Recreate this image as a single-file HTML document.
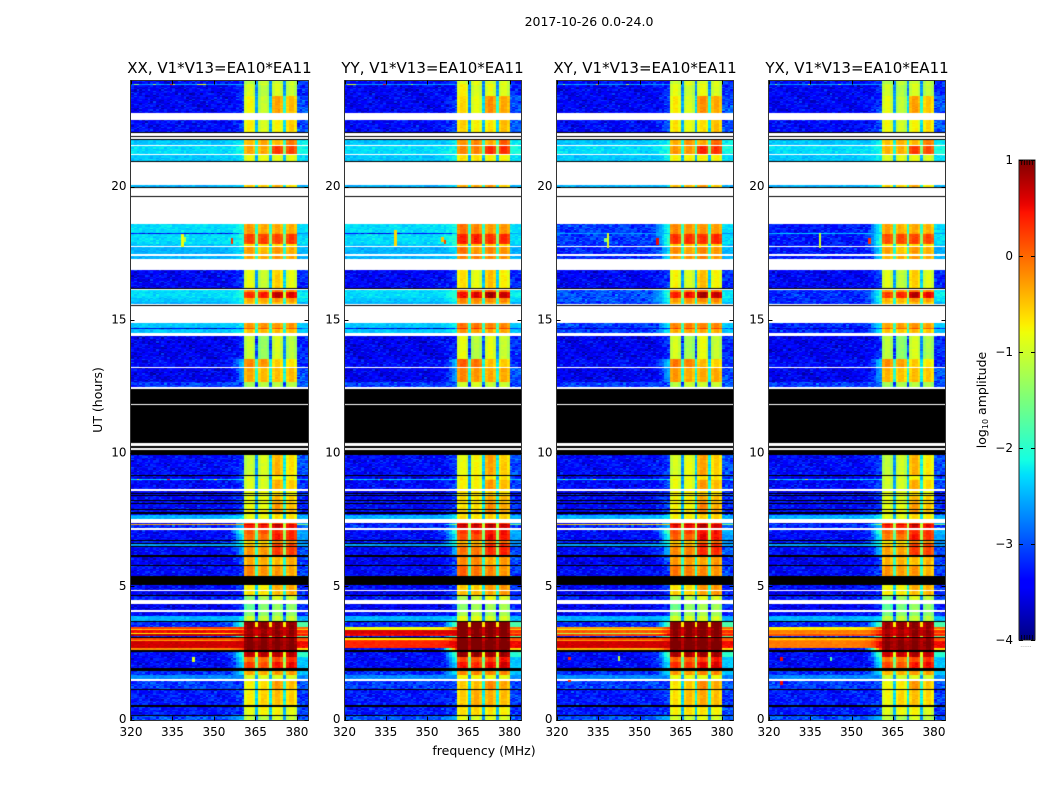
<!DOCTYPE html>
<html lang="en">
<head>
<meta charset="utf-8">
<title>2017-10-26 0.0-24.0 dynamic spectra</title>
<style>
html,body{margin:0;padding:0;background:#fff;}
#stage{position:relative;width:1050px;height:800px;overflow:hidden;background:#fff;font-family:"DejaVu Sans","Liberation Sans",sans-serif;}
canvas{position:absolute;display:block;}
#overlay{position:absolute;left:0;top:0;}
text{font-family:"DejaVu Sans","Liberation Sans",sans-serif;fill:#000;}
</style>
</head>
<body>
<div id="stage">
<svg id="overlay" width="1050" height="800" viewBox="0 0 1050 800" xmlns="http://www.w3.org/2000/svg">
  <defs>
    <linearGradient id="jetGradient" x1="0" y1="1" x2="0" y2="0"></linearGradient>
  </defs>
  <text x="589" y="26" font-size="12.5" text-anchor="middle">2017-10-26 0.0-24.0</text>
  <text x="484" y="755" font-size="12.5" text-anchor="middle">frequency (MHz)</text>
  <text transform="translate(102,400) rotate(-90)" font-size="12.5" text-anchor="middle">UT (hours)</text>
  <text transform="translate(986,400) rotate(-90)" font-size="12.5" text-anchor="middle">log<tspan font-size="8" dy="2">10</tspan><tspan dy="-2"> amplitude</tspan></text>
  <text x="1026" y="647" font-size="6" fill="#888" text-anchor="middle" style="fill:#888">......</text>
  <g id="axes-layer"></g>
</svg>
</div>
<script>
// ---- Chart data (levels are log10 amplitude) ----
const panelTitles = ["XX, V1*V13=EA10*EA11", "YY, V1*V13=EA10*EA11", "XY, V1*V13=EA10*EA11", "YX, V1*V13=EA10*EA11"];
const hourTicks = [0, 5, 10, 15, 20];
const freqTicks = [320, 335, 350, 365, 380];
const colorTicks = [-4, -3, -2, -1, 0, 1];
const colorMin = -4;
const colorMax = 1;
const freqMin = 320;
const freqMax = 384;
const hourMin = 0;
const hourMax = 23.96;
const channelCount = 64;
const rowStepHours = 0.05;

// Which spectral segment each channel belongs to: 0 quiet, 1 roll-on, 2-5 the four basebands, 6 upper edge, 7 inter-band gap
const channelSegment = [
  0,0,0,0,0,0,0,0,0,0,0,0,0,0,0,0,0,0,0,0,0,0,0,0,0,0,0,0,0,0,0,0,0,
  1,1,1,1,1,1,1,1,
  2,2,2,2,7,3,3,3,3,7,4,4,4,4,7,5,5,5,5,
  6,6,6,6
];
// Roll-on weight for channels 33-40
const rollOnWeight = [0.03, 0.06, 0.1, 0.2, 0.35, 0.55, 0.8, 1];
// Level shape across the four channels of a baseband
const bandShape = [-0.08, 0.08, 0.08, -0.1];
// Level offset of each baseband per polarisation panel: XX, YY, XY, YX
const panelBandOffset = [
  [0, 0, 0, 0],
  [0.2, 0.2, 0.1, 0.1],
  [0.1, 0.1, 0.1, 0.1],
  [-0.05, -0.05, 0, -0.05]
];
// Depth of the gap between basebands, in normal rows and in rows saturated across the whole band
const gapDepth = 1.6;
const saturatedGapDepth = 0.2;
// How much further down the deep-blue quiet cells sit
const quietDeepen = 0.2;

// Time rows: [top hour, bottom hour, quiet level, roll-on level, band1, band2, band3, band4, upper-edge level]
// Quiet may be a four-entry list (XX, YY, XY, YX). A null quiet level means a flagged black row; hours not listed are blank.
const timeRows = [
  [23.96,23.84,-3.2,-3.0,-1.2,-1.1,-1.1,-1.1,-3.0],
  [23.84,23.80,-2.6,-2.6,-1.0,-1.0,-0.9,-1.0,-2.9],
  [23.80,23.43,-3.25,-3.0,-1.0,-1.2,-1.0,-1.1,-3.0],
  [23.40,22.76,-3.25,-2.9,-0.85,-1.1,-0.35,-0.5,-2.8],
  [22.50,22.05,-3.2,-2.8,-0.8,-1.0,-0.8,-0.6,-2.8],
  [22.05,22.00,null],
  [21.90,21.87,null],
  [21.78,21.75,null],
  [21.75,21.56,-2.4,-2.2,-0.5,-0.4,-0.5,-0.1,-2.2],
  [21.52,21.24,-2.3,-2.1,-0.4,-0.4,0.2,0.15,-2.1],
  [21.18,20.96,-2.4,-2.2,-0.9,-0.9,-0.9,-0.9,-2.3],
  [20.96,20.92,null],
  [20.06,19.98,-2.5,-2.3,-0.6,-0.6,-0.4,-0.7,-2.5],
  [19.98,19.94,null],
  [19.64,19.60,null],
  [18.60,18.26,[-2.3,-2.3,-2.9,-3.1],-2.1,-0.3,-0.4,-0.4,-0.4,-2.3],
  [18.26,18.20,[-3.2,-3.2,-2.6,-2.4],-2.5,-0.3,-0.3,-0.3,-0.3,-2.6],
  [18.20,17.86,[-2.3,-2.3,-2.9,-3.1],-2.0,0.15,0.15,0.15,0.2,-2.3],
  [17.86,17.77,[-2.4,-2.4,-3.0,-3.1],-2.1,-0.7,-0.7,-0.7,-0.7,-2.4],
  [17.73,17.52,[-2.5,-2.5,-3.0,-3.1],-2.3,-0.3,-0.5,-0.3,-0.4,-2.5],
  [17.49,17.45,[-2.5,-2.5,-3.0,-3.1],-2.3,-0.4,-0.4,-0.4,-0.4,-2.5],
  [17.41,17.28,[-2.5,-2.5,-3.0,-3.1],-2.3,-0.4,-0.4,-0.3,-0.4,-2.5],
  [16.87,16.19,-3.25,-2.9,-0.9,-1.1,-0.6,-0.9,-3.0],
  [16.18,16.15,null],
  [16.13,16.05,[-2.3,-2.3,-2.8,-3.0],-2.1,-0.3,-0.3,-0.1,-0.2,-2.3],
  [16.05,15.82,[-2.3,-2.3,-2.8,-3.0],-2.0,0.25,0.35,0.7,0.55,-2.2],
  [15.82,15.70,[-2.4,-2.4,-2.8,-3.0],-2.1,-0.4,-0.4,-0.3,-0.3,-2.3],
  [15.67,15.60,[-2.5,-2.5,-2.9,-3.0],-2.2,-0.5,-0.5,-0.5,-0.5,-2.5],
  [15.57,15.54,null],
  [14.88,14.69,[-2.4,-2.4,-2.9,-3.0],-2.2,-0.3,-0.3,-0.3,-0.3,-2.4],
  [14.69,14.65,-3.4,-2.8,0.1,0.1,0.1,0.1,-2.8],
  [14.65,14.50,[-2.4,-2.4,-2.9,-3.0],-2.2,-0.5,-0.5,-0.5,-0.5,-2.4],
  [14.39,13.53,-3.3,-3.0,-1.1,-1.4,-1.0,-1.2,-3.0],
  [13.53,13.23,-3.2,-2.4,-0.2,-0.3,-0.6,-0.7,-3.0],
  [13.19,12.66,-3.3,-2.6,-0.4,-0.5,-0.5,-0.5,-2.8],
  [12.66,12.48,-2.9,-2.8,-1.3,-1.2,-1.2,-1.2,-2.8],
  [12.42,11.85,null],
  [11.81,10.36,null],
  [10.28,10.18,null],
  [10.11,9.92,null],
  [9.92,9.17,-3.2,-2.9,-1.1,-1.0,-0.45,-0.7,-2.8],
  [9.17,9.14,null],
  [9.14,9.02,-3.3,-2.9,-1.0,-1.0,-0.8,-0.8,-3.0],
  [9.02,8.99,-2.4,-2.2,-0.9,-0.9,-0.7,-0.8,-2.4],
  [8.99,8.65,-3.2,-2.8,-1.0,-1.0,-0.4,-0.6,-2.9],
  [8.57,8.50,-3.3,-2.9,-0.9,-0.9,-0.7,-0.8,-3.0],
  [8.50,8.46,null],
  [8.46,8.42,-3.2,-2.9,-0.9,-0.9,-0.7,-0.8,-3.0],
  [8.42,8.39,null],
  [8.39,8.27,-3.2,-2.9,-0.9,-0.9,-0.5,-0.6,-3.0],
  [8.25,8.20,null],
  [8.20,8.12,-3.2,-2.9,-0.9,-0.9,-0.4,-0.6,-3.0],
  [8.12,8.09,null],
  [8.09,7.90,-3.2,-2.9,-0.9,-0.9,-0.3,-0.5,-3.0],
  [7.90,7.86,null],
  [7.86,7.77,-3.2,-2.8,-0.8,-0.8,-0.3,-0.5,-3.0],
  [7.77,7.73,null],
  [7.73,7.67,-3.2,-2.7,-0.9,-0.9,-0.6,-0.7,-2.9],
  [7.67,7.52,-2.5,-2.2,-0.9,-0.9,-0.7,-0.7,-2.5],
  [7.39,7.35,-3.3,-2.4,0.1,0.1,0.2,0.1,-2.6],
  [7.35,7.28,[-0.4,-3.0,-0.6,-2.9],-1.0,0.6,0.6,0.8,0.6,-1.5],
  [7.28,7.19,-3.0,-2.5,0.4,0.4,0.6,0.5,-2.8],
  [7.10,6.98,-3.2,-1.8,0.0,0.1,0.3,0.3,-2.5],
  [6.96,6.74,-3.2,-2.2,-0.1,-0.1,0.4,0.3,-2.6],
  [6.72,6.70,null],
  [6.70,6.62,-3.1,-2.0,-0.7,-0.7,-0.2,-0.2,-2.7],
  [6.62,6.58,null],
  [6.58,6.51,-2.6,-2.1,-0.5,-0.5,0.2,0.2,-2.6],
  [6.51,6.47,null],
  [6.47,6.17,-3.2,-2.5,-0.3,-0.3,0.2,0.2,-2.8],
  [6.17,6.10,null],
  [6.10,5.80,-3.3,-2.8,-0.4,-0.4,-0.5,-0.4,-2.9],
  [5.80,5.76,null],
  [5.76,5.38,-3.2,-2.9,-0.2,-0.3,-0.3,-0.4,-2.9],
  [5.38,5.05,null],
  [5.05,4.86,-3.2,-2.9,-0.8,-0.8,-0.4,-0.4,-3.0],
  [4.82,4.67,-3.3,-3.0,-0.7,-0.7,-0.5,-0.4,-3.0],
  [4.67,4.63,null],
  [4.63,4.48,-3.1,-2.8,-1.5,-1.3,-1.0,-1.1,-2.9],
  [4.33,4.10,-3.3,-3.0,-1.7,-1.5,-1.4,-1.4,-3.0],
  [4.03,3.90,-3.2,-3.0,-1.5,-1.4,-1.4,-1.4,-3.0],
  [3.88,3.70,-2.5,-2.3,-1.1,-1.1,-1.1,-1.1,-2.5],
  [3.70,3.66,null],
  [3.66,3.47,-3.0,-1.8,0.9,0.9,0.9,0.9,-1.8],
  [3.47,3.40,[0.2,-0.8,-0.3,-0.7],0.3,0.9,0.9,0.9,0.9,0.0],
  [3.40,3.36,[-0.5,-0.9,-0.9,-0.7],-0.2,0.8,0.8,0.8,0.8,-0.5],
  [3.36,3.25,[0.5,0.6,0.1,-0.1],0.4,0.8,0.8,0.9,0.9,0.3],
  [3.25,3.20,[-0.7,0.6,-1.2,-0.2],0.2,0.8,0.8,0.9,0.9,0.0],
  [3.20,3.15,[0.7,0.5,0.2,0.1],0.6,0.9,0.9,0.9,0.9,0.4],
  [3.15,3.08,-3.0,-1.5,0.5,0.5,0.6,0.6,-1.6],
  [3.08,3.04,null],
  [3.04,2.98,[0.2,-0.7,0.2,-0.5],0.3,0.9,0.9,0.9,0.9,0.1],
  [2.98,2.95,[-0.3,0.2,-0.3,-0.2],0.2,0.9,0.9,0.9,0.9,0.0],
  [2.95,2.70,[0.65,0.35,0.65,-0.1],0.6,1.0,1.0,1.0,1.0,0.5],
  [2.70,2.61,[-0.2,-3.2,-0.4,-3.2],0.2,0.95,0.95,0.95,0.95,-0.6],
  [2.61,2.55,null],
  [2.53,2.35,-3.2,-1.8,0.7,0.7,0.75,0.75,-2.0],
  [2.35,2.16,-3.2,-2.1,-0.1,-0.1,0.1,0.3,-2.4],
  [2.16,1.93,-3.2,-2.3,0.2,0.1,0.4,0.5,-2.4],
  [1.93,1.82,null],
  [1.82,1.67,-3.0,-2.2,-0.4,-0.4,-0.3,-0.3,-2.4],
  [1.67,1.52,-2.7,-2.7,-1.0,-1.0,-1.0,-1.0,-2.7],
  [1.44,1.14,-2.9,-2.9,-0.8,-0.7,-0.3,-0.5,-2.8],
  [1.14,1.11,null],
  [1.11,0.54,-3.1,-2.9,-0.8,-0.6,-0.5,-0.6,-2.9],
  [0.54,0.47,null],
  [0.47,0.17,-3.1,-2.9,-0.9,-0.8,-0.8,-0.9,-2.9],
  [0.17,0.13,null],
  [0.13,0.00,-2.8,-2.5,-1.1,-1.2,-1.0,-1.1,-2.8]
];

// Narrow interference marks: [panel index, channel, top hour, bottom hour, level]
const interferenceMarks = [
  [0,18,18.20,17.74,-0.8],[0,19,18.10,17.90,-1.2],[0,36,18.05,17.85,0.3],
  [1,18,18.35,17.75,-0.6],[1,35,18.10,17.90,-0.5],[1,36,18.00,17.85,0.2],
  [2,18,18.25,17.70,-0.9],[2,17,18.05,17.90,-1.5],[2,36,18.05,17.80,0.5],
  [3,18,18.25,17.70,-1.0],[3,36,18.05,17.85,0.3],
  [0,22,2.35,2.15,-0.9],[2,22,2.40,2.20,-1.1],[3,22,2.35,2.20,-1.7],
  [2,4,2.35,2.25,0.4],[3,4,2.35,2.20,0.5],[2,4,1.50,1.40,0.4],[3,4,1.45,1.30,0.5],
  [0,1,23.84,23.80,-1.4],[0,2,23.84,23.80,-1.6],[0,8,23.84,23.80,-1.3],[0,14,23.84,23.80,0.4],[0,15,23.84,23.80,-1.0],[0,24,23.84,23.80,-1.0],[0,25,23.84,23.80,-0.9],[0,26,23.84,23.80,-0.8],
  [1,1,23.84,23.80,-0.9],[1,2,23.84,23.80,-1.0],[1,3,23.84,23.80,-1.0],[1,14,23.84,23.80,0.4],[1,24,23.84,23.80,-1.3],
  [2,2,23.84,23.80,-1.5],[2,14,23.84,23.80,-0.5],[2,25,23.84,23.80,-1.2],
  [3,2,23.84,23.80,-1.6],[3,14,23.84,23.80,-0.9],[3,25,23.84,23.80,-1.4],
  [0,2,9.02,8.99,-1.0],[0,13,9.02,8.99,0.5],[0,25,9.02,8.99,0.5],[0,30,9.02,8.99,-0.6],
  [1,2,9.02,8.99,-1.2],[1,13,9.02,8.99,0.2],[2,2,9.02,8.99,-1.4],[2,13,9.02,8.99,-0.8],[3,2,9.02,8.99,-1.5],[3,13,9.02,8.99,-0.9]
];

// Hand-typed texture table standing in for the per-pixel noise, which is too fine to read cell by cell
const speckleA = [0.6,-0.9,0.2,0.8,-0.3,-0.7,1,-0.1,0.4,-1,0.7,-0.5,0.1,0.9,-0.8,0.3,-0.2,0.5,-0.6,0.8,-0.4,0,0.7,-0.9,0.2,-0.7,1,-0.3,0.4,-0.8,0.6,-0.1,0.9,-0.5,0.3,-1,0.5,0.1,-0.6,0.8,-0.2];
const speckleB = [-0.4,0.7,-0.8,0.3,0.9,-0.2,-0.6,0.5,-1,0.1,0.8,-0.3,0.6,-0.7,0.2,1,-0.5,-0.1,0.4,-0.9,0.7,0.3,-0.6,0.9,-0.2,-0.8,0.5,0,-0.4,0.8,-1,0.2,0.6,-0.7,0.1,0.4,-0.3];

// ---- Layout ----
const panelLeftPx = [131, 344.5, 557, 769];
const panelRightPx = [308, 520.5, 733, 945];
const plotTopPx = 81;
const plotBottomPx = 719.5;
const barLeftPx = 1019;
const barRightPx = 1035;
const barTopPx = 160;
const barBottomPx = 640;

// ---- Scales ----
function freqScale(p, f) {
  return panelLeftPx[p] + (f - freqMin) / (freqMax - freqMin) * (panelRightPx[p] - panelLeftPx[p]);
}
function channelScale(p, c) {
  return panelLeftPx[p] + c / channelCount * (panelRightPx[p] - panelLeftPx[p]);
}
function hourScale(h) {
  return plotBottomPx - (h - hourMin) / (hourMax - hourMin) * (plotBottomPx - plotTopPx);
}
function levelScale(v) {
  return barBottomPx - (v - colorMin) / (colorMax - colorMin) * (barBottomPx - barTopPx);
}
function clamp01(x) { return Math.max(0, Math.min(1, x)); }
function jetRgb(t) {
  t = clamp01(t);
  let r, g, b;
  if (t < 0.35) r = 0; else if (t < 0.66) r = (t - 0.35) / 0.31; else if (t < 0.89) r = 1; else r = 1 - 0.5 * (t - 0.89) / 0.11;
  if (t < 0.125) g = 0; else if (t < 0.375) g = (t - 0.125) / 0.25; else if (t < 0.64) g = 1; else if (t < 0.91) g = 1 - (t - 0.64) / 0.27; else g = 0;
  if (t < 0.11) b = 0.5 + 0.5 * t / 0.11; else if (t < 0.34) b = 1; else if (t < 0.65) b = 1 - (t - 0.34) / 0.31; else b = 0;
  return "rgb(" + Math.round(r * 255) + "," + Math.round(g * 255) + "," + Math.round(b * 255) + ")";
}
function levelColor(v) {
  return jetRgb((v - colorMin) / (colorMax - colorMin));
}

// ---- Heatmap cells ----
function cellLevel(row, p, c, rowIndex) {
  const low = Array.isArray(row[2]) ? row[2][p] : row[2];
  const edge = row[3];
  const seg = channelSegment[c];
  let v;
  if (seg === 0) {
    v = low;
  } else if (seg === 1) {
    const w = rollOnWeight[c - 33];
    v = low + (Math.max(edge, low) - low) * w;
  } else if (seg >= 2 && seg <= 5) {
    v = row[2 + seg] + panelBandOffset[p][seg - 2] + bandShape[(c - 41) % 5];
  } else if (seg === 7) {
    const left = channelSegment[c - 1];
    const right = channelSegment[c + 1];
    v = (row[2 + left] + row[2 + right]) / 2 - (row[3] > -1 ? saturatedGapDepth : gapDepth);
  } else {
    v = row[8];
  }
  if (v < -2.75) v -= quietDeepen;
  const amp = v < -2.8 ? 0.32 : (v < -1.8 ? 0.13 : 0.07);
  const n = speckleA[(rowIndex * 17 + c * 5 + p * 11) % speckleA.length] + speckleB[(rowIndex * 7 + c * 13 + p * 3) % speckleB.length];
  return v + amp * n * 0.7;
}

const stage = document.getElementById("stage");
const panelNames = ["xx", "yy", "xy", "yx"];

function drawHeatmap(p) {
  const left = Math.round(panelLeftPx[p]);
  const right = Math.round(panelRightPx[p]);
  const top = plotTopPx;
  const bottom = Math.ceil(plotBottomPx);
  const cv = document.createElement("canvas");
  
  
  cv.width = right - left;
  cv.height = bottom - top;
  cv.style.left = left + "px";
  cv.style.top = top + "px";
  const ctx = cv.getContext("2d");
  for (const row of timeRows) {
    const yEnd = Math.round(hourScale(row[1]));
    let h = row[0];
    let guard = 0;
    while (h > row[1] + 1e-6 && guard < 800) {
      const hNext = Math.max(row[1], h - rowStepHours);
      const y0 = Math.round(hourScale(h));
      const y1 = Math.max(y0 + 1, Math.round(hourScale(hNext)));
      const rowIndex = Math.round(h * 20) + 600;
      for (let c = 0; c < channelCount; c++) {
        const x0 = Math.round(channelScale(p, c));
        const x1 = Math.round(channelScale(p, c + 1));
        const lowValue = Array.isArray(row[2]) ? row[2][p] : row[2];
        ctx.fillStyle = lowValue === null ? "#000" : levelColor(cellLevel(row, p, c, rowIndex));
        ctx.fillRect(x0 - left, y0 - top, x1 - x0, Math.min(y1, Math.max(yEnd, y0 + 1)) - y0);
      }
      h = hNext;
      guard++;
    }
  }
  for (const mark of interferenceMarks) {
    if (mark[0] !== p) continue;
    const x0 = Math.round(channelScale(p, mark[1]));
    const x1 = Math.round(channelScale(p, mark[1] + 1));
    const y0 = Math.round(hourScale(mark[2]));
    const y1 = Math.round(hourScale(mark[3]));
    ctx.fillStyle = levelColor(mark[4]);
    ctx.fillRect(x0 - left, y0 - top, x1 - x0, Math.max(1, y1 - y0));
  }
  stage.insertBefore(cv, document.getElementById("overlay"));
}

// ---- Axes ----
const NS = "http://www.w3.org/2000/svg";
const layer = document.getElementById("axes-layer");
function line(x1, y1, x2, y2, name, width, color) {
  const el = document.createElementNS(NS, "line");
  el.setAttribute("x1", x1);
  el.setAttribute("y1", y1);
  el.setAttribute("x2", x2);
  el.setAttribute("y2", y2);
  el.setAttribute("stroke", color || "#000");
  el.setAttribute("stroke-width", width || 1);
  
  
  layer.appendChild(el);
}
function label(x, y, str, anchor, size, name) {
  const el = document.createElementNS(NS, "text");
  el.setAttribute("x", x);
  el.setAttribute("y", y);
  el.setAttribute("font-size", size);
  el.setAttribute("text-anchor", anchor);
  
  
  el.textContent = str;
  layer.appendChild(el);
}
function drawAxes(p) {
  const left = Math.round(panelLeftPx[p]) - 0.5;
  const right = Math.round(panelRightPx[p]) + 0.5;
  const top = plotTopPx - 0.5;
  const bottom = Math.ceil(plotBottomPx) + 0.5;
  const frame = document.createElementNS(NS, "rect");
  frame.setAttribute("x", left);
  frame.setAttribute("y", top);
  frame.setAttribute("width", right - left);
  frame.setAttribute("height", bottom - top);
  frame.setAttribute("fill", "none");
  frame.setAttribute("stroke", "#333");
  frame.setAttribute("stroke-width", 1);
  
  
  layer.appendChild(frame);
  for (const f of freqTicks) {
    const x = Math.round(freqScale(p, f)) + 0.5;
    line(x, bottom, x, bottom - 4, "x-tick-bottom-" + f);
    line(x, top, x, top + 4, "x-tick-top-" + f);
    label(freqScale(p, f), 736, String(f), "middle", 12, "x-tick-label-" + f);
  }
  for (const h of hourTicks) {
    const y = Math.round(hourScale(h)) + 0.5;
    line(left, y, left + 4, y, "y-tick-left-" + h);
    line(right, y, right - 4, y, "y-tick-right-" + h);
    label(left - 4, hourScale(h) + 3.5, String(h), "end", 12, "y-tick-label-" + h);
  }
  label((panelLeftPx[p] + panelRightPx[p]) / 2, 73, panelTitles[p], "middle", 15, "panel-title-" + panelNames[p]);
}
function drawColorbar() {
  const grad = document.getElementById("jetGradient");
  for (let i = 0; i <= 64; i++) {
    const stop = document.createElementNS(NS, "stop");
    stop.setAttribute("offset", i / 64);
    stop.setAttribute("stop-color", jetRgb(i / 64));
    grad.appendChild(stop);
  }
  const bar = document.createElementNS(NS, "rect");
  bar.setAttribute("x", barLeftPx);
  bar.setAttribute("y", barTopPx);
  bar.setAttribute("width", barRightPx - barLeftPx);
  bar.setAttribute("height", barBottomPx - barTopPx);
  bar.setAttribute("fill", "url(#jetGradient)");
  bar.setAttribute("stroke", "#222");
  bar.setAttribute("stroke-width", 1);
  
  
  layer.appendChild(bar);
  for (const t of colorTicks) {
    const y = Math.round(levelScale(t)) + 0.5;
    line(barLeftPx, y, barLeftPx + 4, y, "colorbar-tick-left-" + t);
    line(barRightPx, y, barRightPx - 4, y, "colorbar-tick-right-" + t);
    label(barLeftPx - 6, levelScale(t) + 4, String(t).replace("-", "\u2212"), "end", 12, "colorbar-tick-label-" + t);
  }
  for (let i = 1; i <= 5; i++) {
    const x = barLeftPx + i * 2.67;
    line(x, barTopPx, x, barTopPx + 5, "colorbar-minor-tick-top-" + i, 0.8);
    line(x, barBottomPx, x, barBottomPx - 5, "colorbar-minor-tick-bottom-" + i, 0.8);
  }
}
for (let p = 0; p < panelTitles.length; p++) {
  drawHeatmap(p);
  drawAxes(p);
}
drawColorbar();
</script>
</body>
</html>
